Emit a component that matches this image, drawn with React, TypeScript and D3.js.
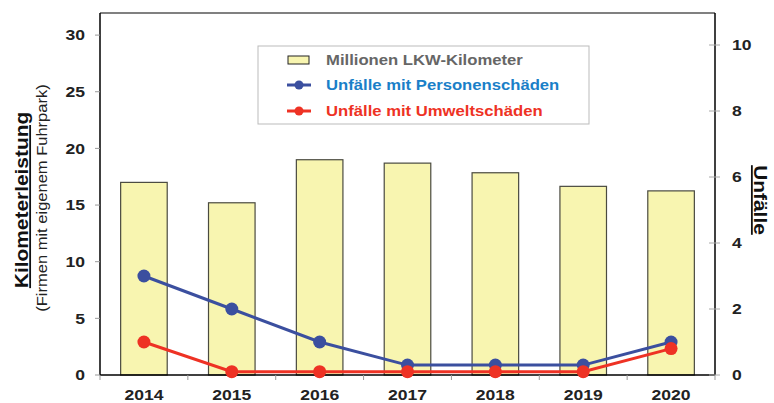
import React from "react";
import * as d3 from "d3";

const years = ["2014", "2015", "2016", "2017", "2018", "2019", "2020"];
const lkwKm = [17.0, 15.2, 19.0, 18.7, 17.85, 16.65, 16.25];
const personen = [3, 2, 1, 0.3, 0.3, 0.3, 1];
const umwelt = [1, 0.1, 0.1, 0.1, 0.1, 0.1, 0.8];
const leftTicks = [0, 5, 10, 15, 20, 25, 30];
const rightTicks = [0, 2, 4, 6, 8, 10];

const W = 774;
const H = 403;
const margin = { top: 13, right: 59, bottom: 28, left: 100 };
const font = "'Liberation Sans', Arial, sans-serif";
const SX = 1.17; // the original font is a bit wider than Arial

// text that is stretched horizontally along its own direction
const Txt = ({ x, y, rot = 0, sx = SX, anchor = "start", size = 15, bold = true, fill = "#222", underline = false, children }: any) => (
  <text
    transform={`translate(${x},${y}) rotate(${rot}) scale(${sx},1)`}
    textAnchor={anchor}
    dy="0.35em"
    fontSize={size}
    fontWeight={bold ? "bold" : "normal"}
    fill={fill}
    textDecoration={underline ? "underline" : undefined}
  >
    {children}
  </text>
);

const App = () => {
  const iw = W - margin.left - margin.right;
  const ih = H - margin.top - margin.bottom;

  const x = d3.scaleBand().domain(years).range([0, iw]).paddingInner(0).paddingOuter(0);
  const yL = d3.scaleLinear().domain([0, 31.95]).range([ih, 0]);
  const yR = d3.scaleLinear().domain([0, 10.97]).range([ih, 0]);
  const barW = x.bandwidth() * 0.53;
  const cx = (y: string) => (x(y) as number) + x.bandwidth() / 2;

  const line = d3.line<number>().x((d, i) => cx(years[i])).y((d) => yR(d));

  const blue = "#3b4f9f";
  const red = "#ee3224";

  return (
    <svg width={W} height={H} style={{ position: "absolute", left: 0, top: 0 }} fontFamily={font}>
      <g transform={`translate(${margin.left},${margin.top})`}>
        {/* bars */}
        {years.map((y, i) => (
          <rect
            key={y}
            x={cx(y) - barW / 2}
            y={yL(lkwKm[i])}
            width={barW}
            height={ih - yL(lkwKm[i])}
            fill="#f8f5b0"
            stroke="#4a4a40"
            strokeWidth={1.2}
          />
        ))}

        {/* frame */}
        <line x1={0} x2={iw} y1={0} y2={0} stroke="#808080" strokeWidth={2} />
        <line x1={0} x2={0} y1={0} y2={ih} stroke="#000" strokeWidth={1.5} />
        <line x1={iw} x2={iw} y1={0} y2={ih} stroke="#000" strokeWidth={1.5} />
        <line x1={0} x2={iw} y1={ih} y2={ih} stroke="#000" strokeWidth={1.5} />

        {/* left axis */}
        {leftTicks.map((t) => (
          <g key={t}>
            <line x1={-5} x2={0} y1={yL(t)} y2={yL(t)} stroke="#999" />
            <Txt x={-15} y={yL(t)} anchor="end">{t}</Txt>
          </g>
        ))}

        {/* right axis */}
        {rightTicks.map((t) => (
          <g key={t}>
            <line x1={iw - 6} x2={iw + 5} y1={yR(t)} y2={yR(t)} stroke="#aaa" />
            <Txt x={iw + 17} y={yR(t)}>{t}</Txt>
          </g>
        ))}

        {/* x axis */}
        {years.map((y) => (
          <line key={"t" + y} x1={x(y) as number} x2={x(y) as number} y1={ih} y2={ih + 5} stroke="#999" />
        ))}
        <line x1={iw} x2={iw} y1={ih} y2={ih + 5} stroke="#999" />
        {years.map((y) => (
          <Txt key={"l" + y} x={cx(y)} y={ih + 20} anchor="middle">{y}</Txt>
        ))}

        {/* lines */}
        <path d={line(personen) || ""} fill="none" stroke={blue} strokeWidth={3} />
        {personen.map((v, i) => (
          <circle key={"p" + i} cx={cx(years[i])} cy={yR(v)} r={6.5} fill={blue} />
        ))}
        <path d={line(umwelt) || ""} fill="none" stroke={red} strokeWidth={3} />
        {umwelt.map((v, i) => (
          <circle key={"u" + i} cx={cx(years[i])} cy={yR(v)} r={6.5} fill={red} />
        ))}
      </g>

      {/* legend */}
      <g>
        <rect x={258} y={46} width={331} height={78} fill="#fff" stroke="#bbb" strokeWidth={1} />
        <rect x={288} y={56} width={21} height={8} fill="#f8f5b0" stroke="#222" strokeWidth={1} />
        <Txt x={326} y={60} size={14.5} sx={1.15} fill="#666">Millionen LKW-Kilometer</Txt>
        <line x1={287} x2={311} y1={85} y2={85} stroke={blue} strokeWidth={3} />
        <circle cx={299} cy={85} r={4.5} fill={blue} />
        <Txt x={326} y={85} size={14.5} sx={1.15} fill="#1a7fc8">Unfälle mit Personenschäden</Txt>
        <line x1={287} x2={311} y1={111} y2={111} stroke={red} strokeWidth={3} />
        <circle cx={299} cy={111} r={4.5} fill={red} />
        <Txt x={326} y={111} size={14.5} sx={1.15} fill={red}>Unfälle mit Umweltschäden</Txt>
      </g>

      {/* axis titles */}
      <Txt x={22} y={200} rot={-90} anchor="middle" size={18} sx={1.16} fill="#111" underline>
        Kilometerleistung
      </Txt>
      <Txt x={42} y={198} rot={-90} anchor="middle" size={14} sx={1.18} bold={false}>
        (Firmen mit eigenem Fuhrpark)
      </Txt>
      <Txt x={760} y={200} rot={90} anchor="middle" size={18} sx={1.16} fill="#111" underline>
        Unfälle
      </Txt>
    </svg>
  );
};

export default App;
